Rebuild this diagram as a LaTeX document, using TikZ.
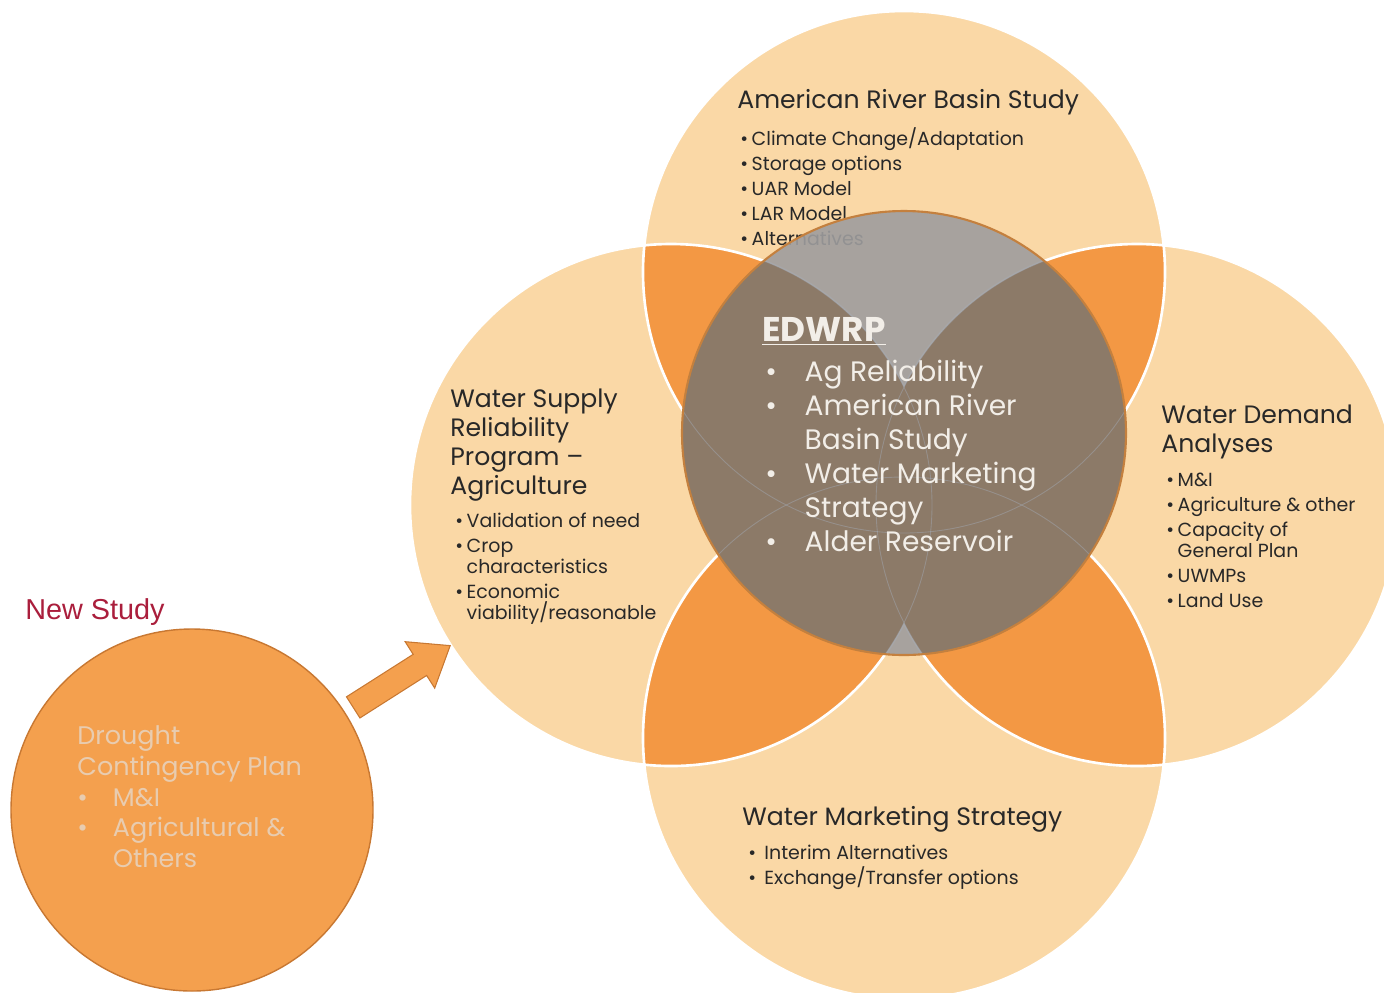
\documentclass[tikz,border=0pt]{standalone}
\usepackage{fontspec}
\setmainfont{Poppins}
\newfontfamily\newsfont{Liberation Sans}
\usetikzlibrary{calc,shapes.arrows}

\newcommand{\bul}[1][0.6em]{\makebox[#1][l]{\textbullet}}
\newcommand{\rad}{261}

\tikzset{
  headtext/.style={anchor=north west, inner sep=0pt, align=left, text=bodytext, font=\fontsize{14.3}{16.4}\selectfont},
  listtext/.style={anchor=north west, inner sep=0pt, align=left, text=bodytext, font=\fontsize{10.8}{11.9}\selectfont},
  hubtitle/.style={anchor=north west, inner sep=0pt, text=hubtext, font=\fontsize{19.5}{21}\selectfont\bfseries},
  hublist/.style={anchor=north west, inner sep=0pt, align=left, text=hubtext, font=\fontsize{16}{19.3}\selectfont},
  dcplist/.style={anchor=north west, inner sep=0pt, align=left, text=dcptext, font=\fontsize{14.5}{17.6}\selectfont},
  flowarrow/.style={single arrow, fill=dcporange, draw=dcpedge, line width=0.6pt, inner xsep=0pt, inner ysep=0.24cm,
    minimum height=2.3cm, single arrow head extend=0.3cm, single arrow tip angle=75}
}

\begin{document}
\begin{tikzpicture}[x=0.02cm,y=0.02cm]
% Define colors
\definecolor{peach}{RGB}{250,216,166}
\definecolor{lensorange}{RGB}{243,152,68}
\definecolor{dcporange}{RGB}{244,160,78}
\definecolor{dcpedge}{RGB}{200,120,50}
\definecolor{hubbrown}{RGB}{140,122,104}
\definecolor{hubgray}{RGB}{158,157,158}
\definecolor{hubedge}{RGB}{196,128,62}
\definecolor{seamblue}{RGB}{170,185,205}
\definecolor{bodytext}{RGB}{40,40,40}
\definecolor{hubtext}{RGB}{242,238,232}
\definecolor{dcptext}{RGB}{232,204,176}
\definecolor{newred}{RGB}{170,30,60}

% Page size
\useasboundingbox (0,0) rectangle (1384,-992);

% Circle centres
\coordinate (arbsc) at (904,-272);
\coordinate (wsrc) at (671,-505);
\coordinate (wdac) at (1137,-505);
\coordinate (wmsc) at (904,-738);
\coordinate (hubc) at (904,-433);
\coordinate (dcpc) at (192,-810);

% Four outer circles
\foreach \c in {arbsc,wsrc,wdac,wmsc}
  \fill[peach] (\c) circle (\rad);

% Lenses where neighbours overlap
\begin{scope}
  \clip (arbsc) circle (\rad);
  \fill[lensorange] (wsrc) circle (\rad);
  \fill[lensorange] (wdac) circle (\rad);
\end{scope}
\begin{scope}
  \clip (wmsc) circle (\rad);
  \fill[lensorange] (wsrc) circle (\rad);
  \fill[lensorange] (wdac) circle (\rad);
\end{scope}

% White rims
\foreach \c in {arbsc,wsrc,wdac,wmsc}
  \draw[white, line width=1.5pt] (\c) circle (\rad);

% American River Basin Study
\node[headtext] (arbstitle) at (737,-89) {American River Basin Study};
\node[listtext] (arbslist) at (740,-127) {\bul Climate Change/Adaptation\\[2.3pt]
  \bul Storage options\\[2.3pt]
  \bul UAR Model\\[2.3pt]
  \bul LAR Model\\[2.3pt]
  \bul Alternatives};

% Centre circle
\begin{scope}
  \clip (hubc) circle (222);
  \fill[hubgray, opacity=0.9] (hubc) circle (222);
  \fill[hubbrown] (wsrc) circle (\rad);
  \fill[hubbrown] (wdac) circle (\rad);
  \foreach \c in {arbsc,wsrc,wdac,wmsc}
    \draw[seamblue, line width=0.5pt, opacity=0.35] (\c) circle (\rad);
\end{scope}
\draw[hubedge, line width=1.2pt] (hubc) circle (222);

\node[hubtitle] (hubtitle) at (762,-317) {\underline{EDWRP}};
\node[hublist] (hublist) at (765,-360) {\bul[1.4em]Ag Reliability\\
  \bul[1.4em]American River\\
  \hspace*{1.4em}Basin Study\\
  \bul[1.4em]Water Marketing\\
  \hspace*{1.4em}Strategy\\
  \bul[1.4em]Alder Reservoir};

% Water Supply Reliability Program
\node[headtext] (wsrtitle) at (450,-389) {Water Supply\\Reliability\\Program --\\Agriculture};
\node[listtext] (wsrlist) at (455,-513) {\bul Validation of need\\[2.3pt]
  \bul Crop\\
  \hspace*{0.6em}characteristics\\[2.3pt]
  \bul Economic\\
  \hspace*{0.6em}viability/reasonable};

% Water Demand Analyses
\node[headtext] (wdatitle) at (1161,-405) {Water Demand\\Analyses};
\node[listtext] (wdalist) at (1166,-473) {\bul M\&I\\[2.3pt]
  \bul Agriculture \& other\\[2.3pt]
  \bul Capacity of\\
  \hspace*{0.6em}General Plan\\[2.3pt]
  \bul UWMPs\\[2.3pt]
  \bul Land Use};

% Water Marketing Strategy
\node[headtext] (wmstitle) at (742,-806) {Water Marketing Strategy};
\node[listtext] (wmslist) at (748,-845) {\bul[0.85em]Interim Alternatives\\[2.3pt]
  \bul[0.85em]Exchange/Transfer options};

% New study circle
\fill[dcporange] (dcpc) circle (181);
\draw[dcpedge, line width=0.8pt] (dcpc) circle (181);
\node[dcplist] (dcplist) at (77,-725) {Drought\\
  Contingency Plan\\
  \bul[1.4em]M\&I\\
  \bul[1.4em]Agricultural \&\\
  \hspace*{1.4em}Others};
\node[anchor=north west, inner sep=0pt, text=newred, font=\newsfont\fontsize{16.4}{18}\selectfont] (newstudy) at (25,-598) {New Study};

% Arrow into the supply circle
\coordinate (tip) at ($(wsrc)!5.22cm!(dcpc)$);
\node[flowarrow, rotate=32.5, anchor=tip] (feed) at (tip) {};

\end{tikzpicture}
\end{document}
